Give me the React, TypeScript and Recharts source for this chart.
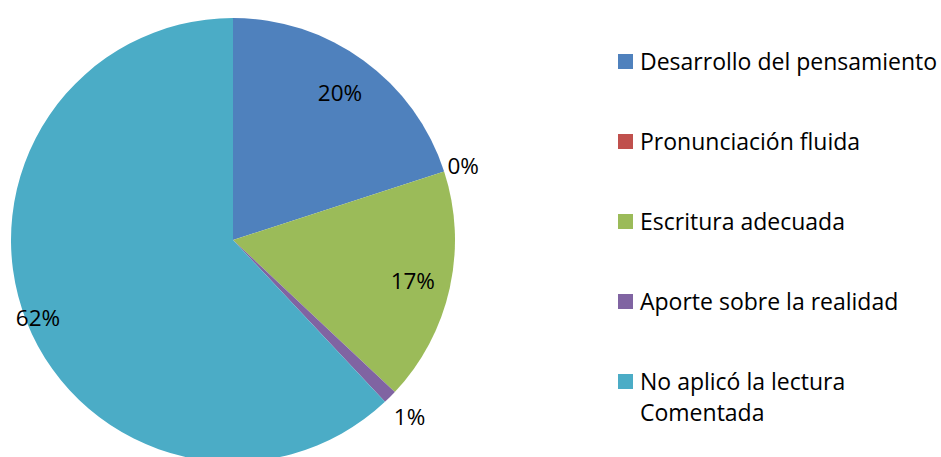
import { PieChart, Pie, Cell, Legend } from 'recharts';

// valores (porcentaje)
const CATEGORIES = [
  'Desarrollo del pensamiento',
  'Pronunciación fluida',
  'Escritura adecuada',
  'Aporte sobre la realidad',
  'No aplicó la lectura Comentada',
];
const VALUES = [20, 0, 17, 1, 62];
const COLORS = ['#4F81BD', '#C0504D', '#9BBB59', '#8064A2', '#4BACC6'];

// distancia de la etiqueta respecto al radio (Excel "mejor ajuste")
const LABEL_RADIUS = [0.82, 1.09, 0.83, 1.125, 0.945];

const data = CATEGORIES.map((name, i) => ({ name, value: VALUES[i] }));

const FONT = '"Open Sans", sans-serif';
const RAD = Math.PI / 180;

const renderLabel = (props: any) => {
  const { cx, cy, midAngle, outerRadius, index, value } = props;
  const r = outerRadius * LABEL_RADIUS[index];
  const x = cx + r * Math.cos(-midAngle * RAD);
  const y = cy + r * Math.sin(-midAngle * RAD);
  return (
    <text
      x={x}
      y={y}
      fill="#000"
      fontSize={22.5}
      fontFamily={FONT}
      textAnchor="middle"
      dominantBaseline="central"
    >
      {`${value}%`}
    </text>
  );
};

const renderLegend = () => (
  <div style={{ position: 'relative', fontFamily: FONT, fontSize: 23, color: '#000' }}>
    {CATEGORIES.map((cat, i) => (
      <div
        key={cat}
        style={{ position: 'absolute', top: i * 80, left: 0, display: 'flex', alignItems: 'flex-start' }}
      >
        <div style={{ width: 15, height: 15, marginTop: 8, marginRight: 7, background: COLORS[i] }} />
        <div style={{ width: 300, lineHeight: '31px' }}>{cat}</div>
      </div>
    ))}
  </div>
);

export default function App() {
  return (
    <div style={{ position: 'fixed', left: 0, top: 0, width: 941, height: 457, background: '#fff', overflow: 'hidden' }}>
      <PieChart width={941} height={457} margin={{ top: 0, right: 0, bottom: 0, left: 0 }}>
        <Pie
          data={data}
          dataKey="value"
          nameKey="name"
          cx={233}
          cy={240}
          outerRadius={222}
          startAngle={90}
          endAngle={-270}
          stroke="none"
          label={renderLabel}
          labelLine={false}
          isAnimationActive={false}
        >
          {data.map((d, i) => (
            <Cell key={d.name} fill={COLORS[i]} />
          ))}
        </Pie>
        <Legend
          content={renderLegend}
          wrapperStyle={{ position: 'absolute', left: 618, top: 46, width: 323, height: 400 }}
        />
      </PieChart>
    </div>
  );
}
